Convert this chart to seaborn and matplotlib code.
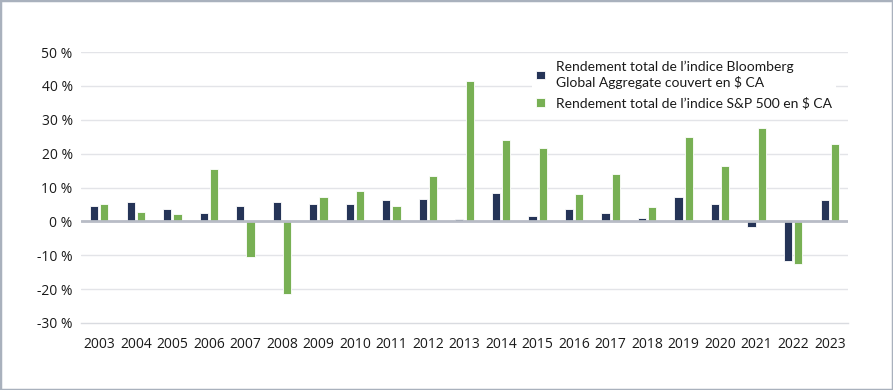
import matplotlib
matplotlib.use("Agg")
import matplotlib.pyplot as plt
import matplotlib.patches as mpatches
import pandas as pd
import seaborn as sns

# --- données ---
annees = [str(a) for a in range(2003, 2024)]
bloomberg = [4.6, 5.6, 3.6, 2.5, 4.5, 5.6, 5.0, 5.0, 6.2, 6.5,
             0.6, 8.5, 1.5, 3.6, 2.5, 1.0, 7.3, 5.2, -1.7, -11.7, 6.2]
sp500 = [5.2, 2.8, 2.2, 15.4, -10.6, -21.5, 7.3, 9.1, 4.6, 13.5,
         41.5, 24.1, 21.6, 8.0, 13.9, 4.2, 25.0, 16.3, 27.6, -12.5, 22.9]
serie_1 = "Rendement total de l\u2019indice Bloomberg\nGlobal Aggregate couvert en \\$ CA"
serie_2 = "Rendement total de l\u2019indice S&P 500 en \\$ CA"
yticks = [-30, -20, -10, 0, 10, 20, 30, 40, 50]

df = pd.DataFrame({
    "annee": annees * 2,
    "valeur": bloomberg + sp500,
    "serie": [serie_1] * len(annees) + [serie_2] * len(annees),
})

sns.set_theme(style="white")
plt.rcParams["font.family"] = ["Open Sans", "DejaVu Sans"]

fig = plt.figure(figsize=(8.93, 3.90), dpi=100)
ax = fig.add_axes([81 / 893, 1 - 323 / 390, 767 / 893, 271 / 390])

sns.barplot(data=df, x="annee", y="valeur", hue="serie", ax=ax,
            palette=["#1c3160", "#74c044"], width=0.56, gap=0.2,
            edgecolor="white", linewidth=0.6, errorbar=None)

ax.set_ylim(-30, 50)
ax.set_xlim(-0.5, len(annees) - 0.5)
ax.set_yticks(yticks)
ax.set_yticklabels([f"{v} %" for v in yticks])
ax.set_xlabel("")
ax.set_ylabel("")

# grille et axe zéro
for v in yticks[1:]:
    ax.axhline(v, color="#e3e4e8", lw=1, zorder=0)
ax.axhline(0, color="#b8bcc6", lw=2, zorder=3)

for s in ["top", "right", "left"]:
    ax.spines[s].set_visible(False)
ax.spines["bottom"].set_color("#d9dbe0")
ax.spines["bottom"].set_linewidth(1)

ax.tick_params(axis="y", length=0, labelsize=10, colors="#1a1a1a", pad=6)
ax.tick_params(axis="x", length=0, labelsize=10, colors="#1a1a1a", pad=10)
# petites graduations entre les années
ax.set_xticks([i - 0.5 for i in range(len(annees) + 1)], minor=True)
ax.tick_params(axis="x", which="minor", length=7, direction="inout",
               color="#d9dbe0", width=1)

leg = ax.legend(loc="upper left", bbox_to_anchor=(0.588, 0.872),
                bbox_transform=fig.transFigure, frameon=True, fontsize=10,
                handlelength=0.6, handleheight=0.6, handletextpad=0.8,
                labelspacing=0.6, borderpad=0.3)
leg.get_frame().set_facecolor("white")
leg.get_frame().set_edgecolor("none")
leg.get_frame().set_alpha(1)
for t in leg.get_texts():
    t.set_family(["Lato", "DejaVu Sans"])
    t.set_color("#1a1a1a")

# cadre gris autour de la figure
fig.patches.append(mpatches.Rectangle((0, 0), 1, 1, transform=fig.transFigure,
                                      fill=False, edgecolor="#a9b1bd", lw=2.5))

fig.savefig("out.png", dpi=100)
